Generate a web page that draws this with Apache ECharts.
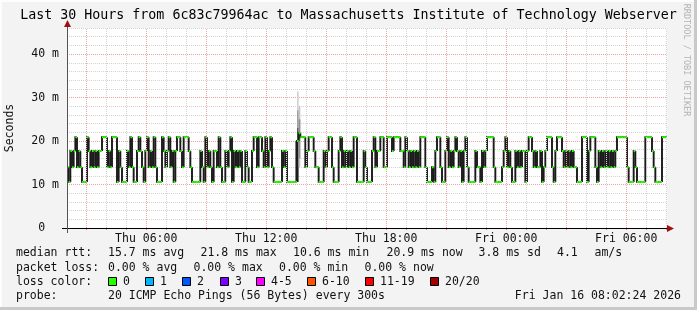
<!DOCTYPE html>
<html><head><meta charset="utf-8">
<script src="https://cdn.jsdelivr.net/npm/echarts@6/dist/echarts.min.js"></script>
<style>html,body{margin:0;padding:0;background:#f3f3f3}#c{width:697px;height:310px}</style>
</head><body><div id="c"></div>
<script>
// ---------- data ----------
const titleText = 'Last 30 Hours from 6c83c79964ac to Massachusetts Institute of Technology Webserver';
const startHour = 2.04;          // Thu 02:02:24
const stepHours = 5 / 60;        // 300 s steps
const xLabelHours = [6, 12, 18, 24, 30];
const yLabelValues = [0, 10, 20, 30, 40];
// median rtt (ms) per 5-minute step
const medianMs = [
14,10.6,17.7,14,17.7,20.9,14,17.7,14,10.6,10.6,10.6,20.9,17.7,14,17.7,14,17.7,14,17.7,
17.7,20.9,20.9,20.9,14,17.7,14,20.9,20.9,20.9,10.6,17.7,14,10.6,10.6,10.6,17.7,14,20.9,14,
10.6,10.6,17.7,20.9,17.7,14,10.6,17.7,20.9,14,17.7,14,20.9,14,10.6,10.6,10.6,20.9,17.7,14,
17.7,20.9,14,17.7,10.6,17.7,20.9,20.9,17.7,14,20.9,20.9,
20.9,17.7,14,10.6,10.6,10.6,10.6,10.6,17.7,14,10.6,20.9,14,17.7,14,10.6,17.7,17.7,14,20.9,
14,10.6,10.6,17.7,14,17.7,20.9,10.6,17.7,14,17.7,14,17.7,10.6,10.6,17.7,14,10.6,10.6,17.7,
20.9,20.9,14,20.9,20.9,17.7,14,20.9,14,17.7,20.9,14,10.6,10.6,10.6,10.6,10.6,17.7,14,17.7,
10.6,10.6,10.6,10.6,10.6,10.6,20.0,21.8,20.9,20.9,20.9,14,
17.7,20.9,20.9,20.9,17.7,14,14,10.6,10.6,10.6,17.7,14,17.7,20.9,20.9,14,10.6,10.6,10.6,17.7,
20.9,14,17.7,14,17.7,14,17.7,14,20.9,20.9,10.6,10.6,10.6,10.6,17.7,14,10.6,10.6,10.6,17.7,
20.9,14,17.7,17.7,20.9,20.9,14,14,20.9,20.9,20.9,17.7,20.9,20.9,20.9,20.9,17.7,17.7,14,20.9,
17.7,14,17.7,14,17.7,14,17.7,14,20.9,20.9,20.9,14,
10.6,10.6,10.6,14,10.6,17.7,20.9,20.9,14,10.6,10.6,17.7,20.9,14,17.7,14,17.7,20.9,17.7,14,
17.7,10.6,17.7,20.9,14,10.6,10.6,10.6,10.6,17.7,14,14,10.6,17.7,14,17.7,20.9,20.9,20.9,20.9,
14,10.6,10.6,10.6,10.6,14,17.7,20.9,14,17.7,14,10.6,10.6,17.7,14,17.7,14,17.7,17.7,10.6,
17.7,20.9,20.9,17.7,14,17.7,14,14,17.7,10.6,14,17.7,
20.9,20.9,20.9,14,10.6,17.7,20.9,20.9,20.9,17.7,14,17.7,14,17.7,14,17.7,14,14,10.6,10.6,
10.6,20.9,20.9,20.9,10.6,17.7,20.9,20.9,20.9,14,10.6,17.7,14,17.7,14,17.7,14,17.7,14,17.7,
14,17.7,20.9,20.9,20.9,20.9,20.9,20.9,14,10.6,10.6,10.6,17.7,14,10.6,10.6,10.6,10.6,10.6,20.9,
20.9,20.9,20.9,17.7,14,10.6,10.6,10.6,10.6,20.9,20.9,20.9
];
// smoke (ping spread) bands: step index, low ms, high ms, shade
const smokeSteps = [137, 138, 138, 138, 139, 139];
const smokeLow  = [10.6, 10.6, 10.6, 10.6, 14.0, 16.0];
const smokeHigh = [20.0, 31.4, 27.0, 23.0, 28.0, 25.0];
const smokeShade = ['#404040', '#d2d2d2', '#a0a0a0', '#5a5a5a', '#c4c4c4', '#8e8e8e'];

const legendRow1 = ['median rtt:', '15.7 ms avg', '21.8 ms max', '10.6 ms min', '20.9 ms now', '3.8 ms sd', '4.1', 'am/s'];
const legendRow2 = ['packet loss:', '0.00 % avg', '0.00 % max', '0.00 % min', '0.00 % now'];
const lossLabels = ['0', '1', '2', '3', '4-5', '6-10', '11-19', '20/20'];
const lossColors = ['#26ff00', '#00b8ff', '#0059ff', '#7e00ff', '#ff00ff', '#ff5500', '#ff0000', '#a10000'];
const probeText = '20 ICMP Echo Pings (56 Bytes) every 300s';
const dateText = 'Fri Jan 16 08:02:24 2026';

// ---------- layout ----------
const G = {left: 67, top: 28, w: 600, h: 200};
const FONT = 'DejaVu Sans Mono';
const row1X = [16, 108, 200.5, 293, 386.5, 478.5, 557, 594.5];
const row2X = [16, 108, 193.5, 279, 364.5];
const boxX = [108, 145, 182, 220, 256, 307, 365, 430];
const rowY = [253, 268, 282, 296];

const endHour = startHour + medianMs.length * stepHours;
const medData = medianMs.map((v, i) => [startHour + i * stepHours, startHour + (i + 1) * stepHours, i > 0 ? medianMs[i - 1] : v, v]);
const smokeData = smokeSteps.map((s, k) => [startHour + s * stepHours, startHour + (s + 1) * stepHours, smokeLow[k], smokeHigh[k], smokeShade[k]]);

const hourTicks = [];
for (let h = Math.ceil(startHour); h <= endHour; h++) hourTicks.push(h);
const MAJ = '#e9a3a3', MIN = '#d4d4d4';

function pad(n) { return (n < 10 ? '0' : '') + n; }

const graphics = [];
function txt(t, x, y, opts) {
  graphics.push(Object.assign({type: 'text', x: x, y: y, silent: true,
    style: Object.assign({text: t, font: '11.5px ' + FONT, fill: '#111', verticalAlign: 'middle'}, (opts && opts.style) || {})},
    opts && opts.rotation !== undefined ? {rotation: opts.rotation} : {}));
}
// frame
graphics.push({type: 'rect', shape: {x: 0, y: 0, width: 697, height: 2}, style: {fill: '#fdfdfd'}, silent: true});
graphics.push({type: 'rect', shape: {x: 0, y: 0, width: 2, height: 310}, style: {fill: '#fdfdfd'}, silent: true});
graphics.push({type: 'rect', shape: {x: 0, y: 307, width: 697, height: 3}, style: {fill: '#c9c9c9'}, silent: true});
graphics.push({type: 'rect', shape: {x: 694, y: 0, width: 3, height: 310}, style: {fill: '#c9c9c9'}, silent: true});
// axes lines and arrows
graphics.push({type: 'line', shape: {x1: 62, y1: 228.5, x2: 668, y2: 228.5}, style: {stroke: '#000', lineWidth: 1}, z: 10, silent: true});
graphics.push({type: 'polygon', shape: {points: [[667, 225], [674, 228.5], [667, 232]]}, style: {fill: '#a01010'}, z: 10, silent: true});
graphics.push({type: 'line', shape: {x1: 67.5, y1: 233, x2: 67.5, y2: 26}, style: {stroke: '#555', lineWidth: 1}, z: 10, silent: true});
graphics.push({type: 'polygon', shape: {points: [[64, 27], [67.5, 20], [71, 27]]}, style: {fill: '#a01010'}, z: 10, silent: true});
// y axis name
txt('Seconds', 10, 128, {rotation: Math.PI / 2, style: {align: 'center'}});
// watermark
txt('RRDTOOL / TOBI OETIKER', 686, 60, {rotation: -Math.PI / 2, style: {align: 'center', font: '8.5px ' + FONT, fill: '#b4b4b4'}});
// legend rows
legendRow1.forEach((t, i) => txt(t, row1X[i], rowY[0]));
legendRow2.forEach((t, i) => txt(t, row2X[i], rowY[1]));
txt('loss color:', 16, rowY[2]);
lossLabels.forEach((t, i) => {
  graphics.push({type: 'rect', shape: {x: boxX[i] + 0.5, y: rowY[2] - 4.5, width: 8, height: 8},
    style: {fill: lossColors[i], stroke: '#000', lineWidth: 1}, silent: true});
  txt(t, boxX[i] + 15, rowY[2]);
});
txt('probe:', 16, rowY[3]);
txt(probeText, 108, rowY[3]);
txt(dateText, 681, rowY[3], {style: {align: 'right'}});

const chart = echarts.init(document.getElementById('c'), null, {renderer: 'canvas'});
chart.setOption({
  animation: false,
  backgroundColor: '#f3f3f3',
  title: {text: titleText, left: 'center', top: 4,
    textStyle: {fontFamily: FONT, fontSize: 13.3, fontWeight: 'normal', color: '#000'}},
  grid: {left: G.left, top: G.top, width: G.w, height: G.h, show: true, backgroundColor: '#ffffff', borderWidth: 0},
  xAxis: {
    type: 'value', min: startHour, max: endHour,
    axisLine: {show: false},
    axisTick: {show: true, customValues: hourTicks, length: 2, lineStyle: {color: '#d08080'}},
    splitLine: {show: false},
    axisLabel: {customValues: xLabelHours, margin: 5, fontFamily: FONT, fontSize: 11.5, color: '#111',
      formatter: v => (v < 24 ? 'Thu ' : 'Fri ') + pad(Math.round(v) % 24) + ':00'}
  },
  yAxis: {
    type: 'value', min: 0, max: 46, interval: 2,
    axisLine: {show: false}, axisTick: {show: false},
    splitLine: {show: true, lineStyle: {color: [MAJ, MIN, MIN, MIN, MIN], type: [1, 1], width: 1}},
    axisLabel: {customValues: yLabelValues, margin: 8, fontFamily: FONT, fontSize: 11.5, color: '#111',
      formatter: v => v === 0 ? '0  ' : v + ' m'}
  },
  series: [
    {type: 'line', data: [[startHour, 0]], symbol: 'none', lineStyle: {opacity: 0}, z: 1, silent: true,
      markLine: {silent: true, symbol: ['none', 'none'], label: {show: false},
        lineStyle: {type: [1, 1], width: 1},
        data: hourTicks.map(h => ({xAxis: h, lineStyle: {color: h % 3 === 0 ? MAJ : MIN, type: [1, 1], width: 1}}))}},
    {type: 'custom', z: 2, silent: true, data: smokeData,
      renderItem: (params, api) => {
        const p0 = api.coord([api.value(0), api.value(3)]);
        const p1 = api.coord([api.value(1), api.value(2)]);
        return {type: 'rect', shape: {x: p0[0], y: p0[1], width: p1[0] - p0[0], height: p1[1] - p0[1]},
          style: {fill: smokeData[params.dataIndex][4]}};
      }},
    {type: 'custom', z: 3, silent: true, data: medData,
      renderItem: (params, api) => {
        const a = api.coord([api.value(0), api.value(2)]);
        const b = api.coord([api.value(0), api.value(3)]);
        const c = api.coord([api.value(1), api.value(3)]);
        return {type: 'polyline', shape: {points: [a, b, c]},
          style: {stroke: '#1a1a1a', lineWidth: 1.9, fill: null}};
      }},
    {type: 'custom', z: 4, silent: true, data: medData,
      renderItem: (params, api) => {
        const p0 = api.coord([api.value(0), api.value(3)]);
        const p1 = api.coord([api.value(1), api.value(3)]);
        return {type: 'rect', shape: {x: p0[0], y: p0[1] - 1, width: p1[0] - p0[0], height: 2},
          style: {fill: '#26ff00'}};
      }}
  ],
  graphic: graphics
});
</script></body></html>
